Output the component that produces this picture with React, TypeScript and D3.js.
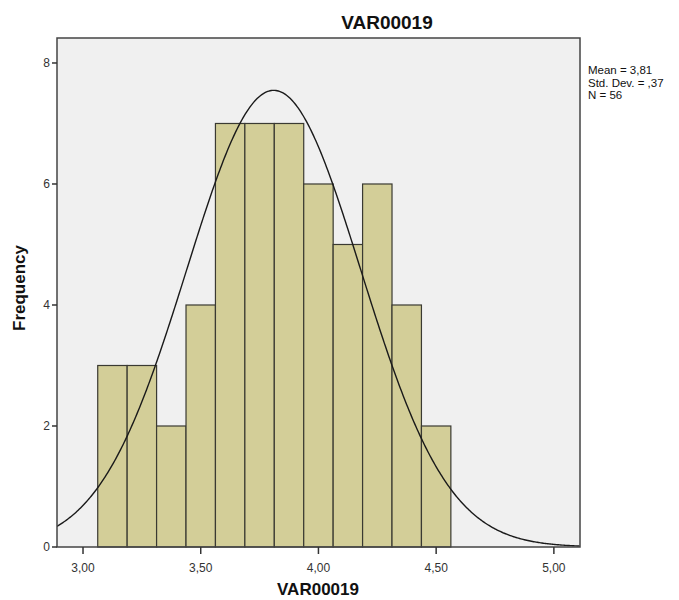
import React from 'react';
import * as d3 from 'd3';

// histogram bins (lower edges) and counts
const binStarts = [3.0625, 3.1875, 3.3125, 3.4375, 3.5625, 3.6875, 3.8125, 3.9375, 4.0625, 4.1875, 4.3125, 4.4375];
const binWidth = 0.125;
const counts = [3, 3, 2, 4, 7, 7, 7, 6, 5, 6, 4, 2];
const xTicks = [3.0, 3.5, 4.0, 4.5, 5.0];
const yTicks = [0, 2, 4, 6, 8];
const stats = { mean: 3.81, sd: 0.37, n: 56 };
const legendLines = ['Mean = 3,81', 'Std. Dev. = ,37', 'N = 56'];

const W = 679;
const H = 600;
const plot = { left: 57, right: 580, top: 38, bottom: 547 };
const font = '"Liberation Sans", Arial, sans-serif';

const fmt = (v: number) => v.toFixed(2).replace('.', ',');

export default function App() {
    const x = d3.scaleLinear().domain([2.8895, 5.111]).range([plot.left, plot.right]);
    const y = d3.scaleLinear().domain([0, 8.413]).range([plot.bottom, plot.top]);

    // fitted normal curve from the reported mean / sd / N
    const scaleFactor = stats.n * binWidth;
    const normal = (v: number) =>
        (scaleFactor / (stats.sd * Math.sqrt(2 * Math.PI))) *
        Math.exp(-0.5 * Math.pow((v - stats.mean) / stats.sd, 2));
    const curvePts = d3.range(x.domain()[0], x.domain()[1] + 0.001, 0.005);
    const line = d3.line<number>()
        .x(d => x(d))
        .y(d => y(normal(d)));

    return (
        <svg width={W} height={H} style={{ display: 'block', position: 'absolute', left: 0, top: 0 }}>
            <defs>
                <clipPath id="plotClip">
                    <rect x={plot.left} y={plot.top} width={plot.right - plot.left} height={plot.bottom - plot.top} />
                </clipPath>
            </defs>
            <rect x={0} y={0} width={W} height={H} fill="#ffffff" />

            {/* plot background */}
            <rect x={plot.left} y={plot.top} width={plot.right - plot.left} height={plot.bottom - plot.top}
                fill="#f0f0f0" />

            {/* bars */}
            {binStarts.map((b, i) => (
                <rect key={i}
                    x={x(b)}
                    y={y(counts[i])}
                    width={x(b + binWidth) - x(b)}
                    height={y(0) - y(counts[i])}
                    fill="#d3ce98"
                    stroke="#3a3a32"
                    strokeWidth={1.2} />
            ))}

            {/* normal curve */}
            <path d={line(curvePts) || ''} fill="none" stroke="#1a1a1a" strokeWidth={1.4}
                clipPath="url(#plotClip)" />

            {/* plot frame */}
            <rect x={plot.left} y={plot.top} width={plot.right - plot.left} height={plot.bottom - plot.top}
                fill="none" stroke="#444444" strokeWidth={1.5} />

            {/* y axis ticks */}
            {yTicks.map(t => (
                <g key={t}>
                    <line x1={plot.left - 5} x2={plot.left} y1={y(t)} y2={y(t)} stroke="#333" strokeWidth={1.5} />
                    <text x={plot.left - 7} y={y(t)} dy="0.35em" textAnchor="end"
                        fontFamily={font} fontSize={12} fill="#333">{t}</text>
                </g>
            ))}

            {/* x axis ticks */}
            {xTicks.map(t => (
                <g key={t}>
                    <line x1={x(t)} x2={x(t)} y1={plot.bottom} y2={plot.bottom + 7} stroke="#333" strokeWidth={1.5} />
                    <text x={x(t)} y={plot.bottom + 25} textAnchor="middle"
                        fontFamily={font} fontSize={12} fill="#333">{fmt(t)}</text>
                </g>
            ))}

            {/* titles */}
            <text x={387} y={29} textAnchor="middle" fontFamily={font} fontSize={19} fontWeight="bold" fill="#111">
                VAR00019
            </text>
            <text x={318} y={595} textAnchor="middle" fontFamily={font} fontSize={17} fontWeight="bold" fill="#111">
                VAR00019
            </text>
            <text transform={`translate(25, 288) rotate(-90)`} textAnchor="middle"
                fontFamily={font} fontSize={17} fontWeight="bold" fill="#111">
                Frequency
            </text>

            {/* stats legend */}
            {legendLines.map((s, i) => (
                <text key={i} x={588} y={74 + i * 12.5} fontFamily={font} fontSize={11.5} fill="#111">{s}</text>
            ))}
        </svg>
    );
}
